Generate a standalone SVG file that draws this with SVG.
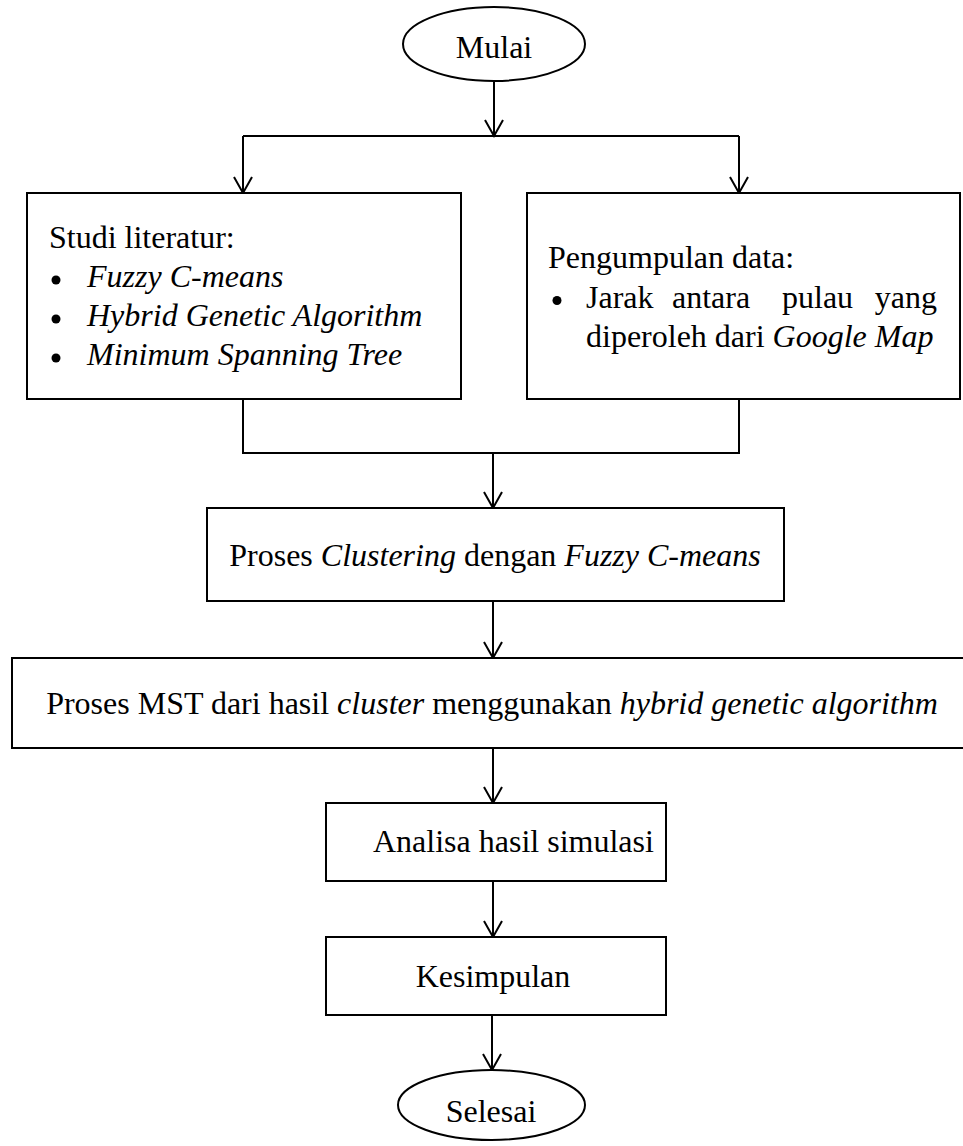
<svg xmlns="http://www.w3.org/2000/svg" width="963" height="1146" viewBox="0 0 963 1146">
<style>
.box{fill:#fff;stroke:#000;stroke-width:2}
.ln{fill:none;stroke:#000;stroke-width:2}
.t{font-family:"Liberation Serif","Times New Roman",serif;font-size:32px;fill:#000}
.c{text-anchor:middle}
.i{font-style:italic}
.b{fill:#000}
</style>
<defs>
<marker id="ah" markerUnits="userSpaceOnUse" markerWidth="20" markerHeight="20" refX="16" refY="10" orient="auto" overflow="visible">
<path d="M0,1 L16,10 L0,19" fill="none" stroke="#000" stroke-width="2"/>
</marker>
</defs>
<rect width="963" height="1146" fill="#fff"/>
<g id="connectors">
<line class="ln" x1="494" y1="81" x2="494" y2="136" marker-end="url(#ah)"/>
<line class="ln" x1="243" y1="136" x2="739" y2="136"/>
<line class="ln" x1="243" y1="136" x2="243" y2="193" marker-end="url(#ah)"/>
<line class="ln" x1="739" y1="136" x2="739" y2="193" marker-end="url(#ah)"/>
<polyline class="ln" points="243,399 243,453 739,453 739,399"/>
<line class="ln" x1="493" y1="453" x2="493" y2="508" marker-end="url(#ah)"/>
<line class="ln" x1="493" y1="601" x2="493" y2="658" marker-end="url(#ah)"/>
<line class="ln" x1="493" y1="748" x2="493" y2="803" marker-end="url(#ah)"/>
<line class="ln" x1="493" y1="881" x2="493" y2="937" marker-end="url(#ah)"/>
<line class="ln" x1="492" y1="1015" x2="492" y2="1070" marker-end="url(#ah)"/>
</g>
<g id="mulai">
<ellipse class="box" cx="494" cy="44" rx="91" ry="37"/>
<text class="t c" x="494" y="58">Mulai</text>
</g>
<g id="studi">
<rect class="box" x="27" y="193" width="434" height="206"/>
<text class="t" x="49" y="248">Studi literatur:</text>
<circle class="b" cx="56" cy="280" r="4.5"/>
<text class="t i" x="87" y="287">Fuzzy C-means</text>
<circle class="b" cx="56" cy="319" r="4.5"/>
<text class="t i" x="87" y="326">Hybrid Genetic Algorithm</text>
<circle class="b" cx="56" cy="358" r="4.5"/>
<text class="t i" x="87" y="365">Minimum Spanning Tree</text>
</g>
<g id="pengumpulan">
<rect class="box" x="527" y="193" width="433" height="206"/>
<text class="t" x="548" y="268">Pengumpulan data:</text>
<circle class="b" cx="557" cy="300.5" r="4.5"/>
<text class="t" x="586" y="307.5">Jarak</text>
<text class="t" x="672" y="307.5">antara</text>
<text class="t" x="782" y="307.5">pulau</text>
<text class="t" x="937" y="307.5" text-anchor="end">yang</text>
<text class="t" x="586" y="347">diperoleh dari <tspan class="i">Google Map</tspan></text>
</g>
<g id="clustering">
<rect class="box" x="207" y="508" width="577" height="93"/>
<text class="t c" x="495" y="566">Proses <tspan class="i">Clustering</tspan> dengan <tspan class="i">Fuzzy C-means</tspan></text>
</g>
<g id="mst">
<rect class="box" x="12" y="658" width="960" height="90"/>
<text class="t c" x="492" y="714">Proses MST dari hasil <tspan class="i">cluster</tspan> menggunakan <tspan class="i">hybrid genetic algorithm</tspan></text>
</g>
<g id="analisa">
<rect class="box" x="326" y="803" width="340" height="78"/>
<text class="t" x="373" y="852">Analisa hasil simulasi</text>
</g>
<g id="kesimpulan">
<rect class="box" x="326" y="937" width="340" height="78"/>
<text class="t c" x="493" y="987">Kesimpulan</text>
</g>
<g id="selesai">
<ellipse class="box" cx="491.5" cy="1105" rx="93.5" ry="35"/>
<text class="t c" x="491" y="1122">Selesai</text>
</g>
</svg>
